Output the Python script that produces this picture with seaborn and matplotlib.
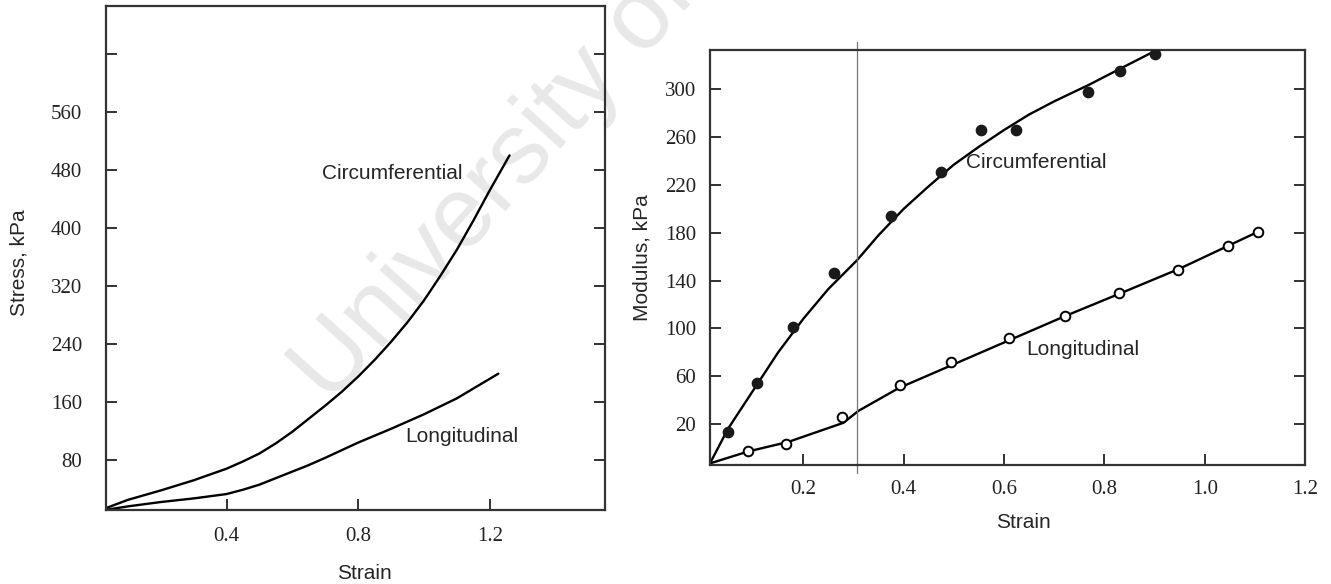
"""
Stress-strain and modulus-strain curves, circumferential vs longitudinal
"""
import matplotlib
matplotlib.use('Agg')
import matplotlib.pyplot as plt
import seaborn as sns

# ---- left panel: stress vs strain (curves only) ----
circ_strain = [0.03, 0.1, 0.2, 0.3, 0.4, 0.45, 0.5, 0.55, 0.6, 0.65, 0.7, 0.75,
               0.8, 0.85, 0.9, 0.95, 1.0, 1.05, 1.1, 1.15, 1.2, 1.26]
circ_stress = [13, 25, 38, 52, 68, 78, 89, 103, 119, 137, 155, 174,
               195, 218, 243, 270, 300, 334, 370, 410, 452, 500]
long_strain = [0.03, 0.1, 0.2, 0.3, 0.4, 0.45, 0.5, 0.55, 0.6, 0.65, 0.7,
               0.8, 0.9, 1.0, 1.1, 1.226]
long_stress = [11, 16, 22, 27, 33, 39, 46, 55, 64, 73, 83,
               104, 123, 143, 165, 199]

# ---- right panel: modulus vs strain (points + fitted lines) ----
circ_pt_strain = [0.049, 0.108, 0.18, 0.261, 0.374, 0.475, 0.555, 0.623, 0.767, 0.832, 0.90]
circ_pt_mod = [13, 54, 101, 146, 194, 231, 266, 266, 298, 315, 330]
circ_fit_strain = [0.014, 0.05, 0.1, 0.15, 0.2, 0.25, 0.307, 0.35, 0.4, 0.45,
                   0.5, 0.55, 0.6, 0.65, 0.7, 0.77, 0.83, 0.90]
circ_fit_mod = [-13, 16, 48, 80, 108, 133, 157, 178, 200, 219,
                237, 252, 266, 279, 290, 304, 317, 332]

long_pt_strain = [0.089, 0.166, 0.278, 0.392, 0.495, 0.609, 0.722, 0.830, 0.946, 1.046, 1.107]
long_pt_mod = [-3, 3, 26, 53, 72, 92, 110, 130, 149, 169, 181]
long_fit_strain = [0.014, 0.09, 0.17, 0.28, 0.31, 0.39, 0.5, 0.61, 0.72, 0.83, 0.95, 1.107]
long_fit_mod = [-13, -3, 5, 21, 31, 50, 70, 90, 110, 129, 150, 181]

left_xticks = [0.4, 0.8, 1.2]
left_yticks = [80, 160, 240, 320, 400, 480, 560, 640]
left_ylabels = ['80', '160', '240', '320', '400', '480', '560', '']
right_xticks = [0.2, 0.4, 0.6, 0.8, 1.0, 1.2]
right_yticks = [20, 60, 100, 140, 180, 220, 260, 300]

sns.set_theme(style='ticks')
plt.rcParams['font.family'] = ['Liberation Sans', 'DejaVu Sans']

fig = plt.figure(figsize=(13.31, 5.84), dpi=100)
ax1 = fig.add_axes([0.0794, 0.1267, 0.3751, 0.863])
ax2 = fig.add_axes([0.5334, 0.2038, 0.4471, 0.7106])

line_kw = dict(color='black', linewidth=1.7, sort=False, estimator=None)

# left panel
sns.lineplot(x=circ_strain, y=circ_stress, ax=ax1, **line_kw)
sns.lineplot(x=long_strain, y=long_stress, ax=ax1, **line_kw)
ax1.set_xlim(0.0325, 1.55)
ax1.set_ylim(11, 706)
ax1.set_xticks(left_xticks, ['0.4', '0.8', '1.2'])
ax1.set_yticks(left_yticks, left_ylabels)
ax1.text(0.904, 475, 'Circumferential', fontsize=15, ha='center', va='center')
ax1.text(1.116, 112, 'Longitudinal', fontsize=15, ha='center', va='center')
ax1.set_xlabel('Strain', fontsize=15)
ax1.set_ylabel('Stress, kPa', fontsize=15)
ax1.xaxis.set_label_coords(0.519, -0.108)
ax1.yaxis.set_label_coords(-0.155, 0.49)
ax1.tick_params(axis='y', pad=17)
ax1.tick_params(axis='x', pad=12)

# watermark
ax1.text(0.372, 0.685, 'University of', transform=fig.transFigure, rotation=48,
         fontsize=72, color='#e8e8e8', ha='center', va='center', zorder=0,
         clip_on=False)

# right panel
sns.lineplot(x=circ_fit_strain, y=circ_fit_mod, ax=ax2, **line_kw)
sns.lineplot(x=long_fit_strain, y=long_fit_mod, ax=ax2, **line_kw)
sns.scatterplot(x=circ_pt_strain, y=circ_pt_mod, ax=ax2, color='#1a1a1a',
                edgecolor='#1a1a1a', s=55, linewidth=1, zorder=3)
sns.scatterplot(x=long_pt_strain, y=long_pt_mod, ax=ax2, color='white',
                edgecolor='black', s=48, linewidth=1.4, zorder=3)
ax2.axvline(0.307, ymin=-0.02, ymax=1.02, color='#777777', linewidth=0.9,
            clip_on=False)
ax2.set_xlim(0.014, 1.2)
ax2.set_ylim(-14.3, 333)
ax2.set_xticks(right_xticks, ['0.2', '0.4', '0.6', '0.8', '1.0', '1.2'])
ax2.set_yticks(right_yticks, [str(v) for v in right_yticks])
ax2.text(0.525, 239, 'Circumferential', fontsize=15, ha='left', va='center')
ax2.text(0.645, 82, 'Longitudinal', fontsize=15, ha='left', va='center')
ax2.set_xlabel('Strain', fontsize=15)
ax2.set_ylabel('Modulus, kPa', fontsize=15)
ax2.xaxis.set_label_coords(0.526, -0.116)
ax2.yaxis.set_label_coords(-0.099, 0.5)
ax2.tick_params(axis='y', pad=10)
ax2.tick_params(axis='x', pad=11)

for ax in (ax1, ax2):
    ax.tick_params(direction='in', length=8, width=1.3, top=False, right=True,
                   labelsize=15, colors='#222222')
    for side in ax.spines.values():
        side.set_color('#333333')
        side.set_linewidth(1.6)
    for lbl in ax.get_xticklabels() + ax.get_yticklabels():
        lbl.set_fontfamily('Liberation Serif')
        lbl.set_color('#222222')

fig.savefig('out.png', dpi=100, facecolor='white')
